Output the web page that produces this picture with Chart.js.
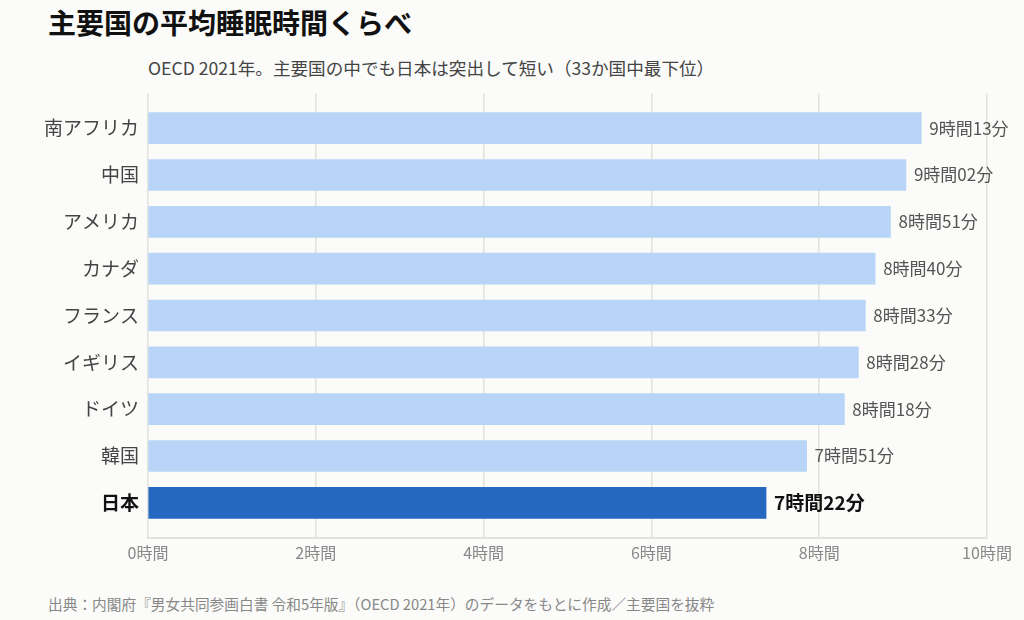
<!DOCTYPE html>
<html lang="ja">
<head>
<meta charset="utf-8">
<script src="https://cdn.jsdelivr.net/npm/chart.js@4.4.0/dist/chart.umd.min.js"></script>
<style>
  html, body { margin: 0; padding: 0; background: #fbfbf9; }
  body { width: 1024px; height: 620px; position: relative; overflow: hidden;
         font-family: "Noto Sans CJK JP", "Noto Sans", sans-serif; }
  #title { position: absolute; left: 48px; top: 2px; font-size: 28px; font-weight: bold; color: #111; }
  #subtitle { position: absolute; left: 148px; top: 55px; font-size: 17.6px; color: #444; }
  #source { position: absolute; left: 48px; top: 593px; font-size: 14.7px; color: #888; }
  #wrap { position: absolute; left: 0; top: 0; width: 1024px; height: 620px; }
</style>
</head>
<body>
<div id="title">主要国の平均睡眠時間くらべ</div>
<div id="subtitle">OECD 2021年。主要国の中でも日本は突出して短い（33か国中最下位）</div>
<div id="source">出典：内閣府『男女共同参画白書 令和5年版』（OECD 2021年）のデータをもとに作成／主要国を抜粋</div>
<div id="wrap"><canvas id="chart" width="1024" height="620"></canvas></div>
<script>
// データ
const countries = ['南アフリカ', '中国', 'アメリカ', 'カナダ', 'フランス', 'イギリス', 'ドイツ', '韓国', '日本'];
const sleepHours = [9, 9, 8, 8, 8, 8, 8, 7, 7];
const sleepMinutes = [13, 2, 51, 40, 33, 28, 18, 51, 22];
const xTicks = [0, 2, 4, 6, 8, 10];

const highlight = '日本';
const sleepValues = sleepHours.map((h, i) => h + sleepMinutes[i] / 60);
const labelText = sleepHours.map((h, i) => h + '時間' + String(sleepMinutes[i]).padStart(2, '0') + '分');

const FONT = '"Noto Sans CJK JP", "Noto Sans", sans-serif';

// バーの右に値を描く
const valueLabels = {
    id: 'valueLabels',
    afterDatasetsDraw(chart) {
        const ctx = chart.ctx;
        const meta = chart.getDatasetMeta(0);
        ctx.save();
        ctx.textBaseline = 'middle';
        ctx.textAlign = 'left';
        meta.data.forEach((bar, i) => {
            const isJp = countries[i] === highlight;
            ctx.font = (isJp ? 'bold 19px ' : '17px ') + FONT;
            ctx.fillStyle = isJp ? '#111' : '#555';
            ctx.fillText(labelText[i], bar.x + 8, bar.y);
        });
        ctx.restore();
    }
};

new Chart(document.getElementById('chart'), {
    type: 'bar',
    data: {
        datasets: [{
            data: sleepValues.map((v, i) => ({ x: v, y: i })),
            backgroundColor: countries.map(c => c === highlight ? '#2468c0' : '#b8d4f6'),
            borderWidth: 0,
            barThickness: 31
        }]
    },
    options: {
        indexAxis: 'y',
        responsive: false,
        animation: false,
        devicePixelRatio: 1,
        layout: { padding: { left: 0, right: 37, top: 93, bottom: 52 } },
        plugins: {
            legend: { display: false },
            tooltip: { enabled: false }
        },
        scales: {
            x: {
                type: 'linear',
                min: 0,
                max: 10,
                afterBuildTicks: (scale) => { scale.ticks = xTicks.map(v => ({ value: v })); },
                afterFit: (scale) => { scale.height = 30; },
                grid: { color: '#e2e2dd', lineWidth: 1.5, drawTicks: false },
                border: { color: '#e2e2dd', width: 2 },
                ticks: {
                    padding: 5,
                    color: '#888',
                    font: { family: FONT, size: 16 },
                    callback: (v) => v + '時間'
                }
            },
            y: {
                type: 'linear',
                reverse: true,
                offset: false,
                min: -0.75,
                max: countries.length - 0.25,
                afterBuildTicks: (scale) => { scale.ticks = countries.map((c, i) => ({ value: i })); },
                afterFit: (scale) => { scale.width = 148; },
                grid: { display: false, drawTicks: false, offset: false },
                border: { display: false },
                ticks: {
                    padding: 9,
                    color: (c) => countries[c.tick.value] === highlight ? '#111' : '#444',
                    font: (c) => ({
                        family: FONT,
                        size: 19,
                        weight: countries[c.tick && c.tick.value] === highlight ? 'bold' : 'normal'
                    }),
                    callback: (v) => countries[v]
                }
            }
        }
    },
    plugins: [valueLabels]
});
</script>
</body>
</html>
